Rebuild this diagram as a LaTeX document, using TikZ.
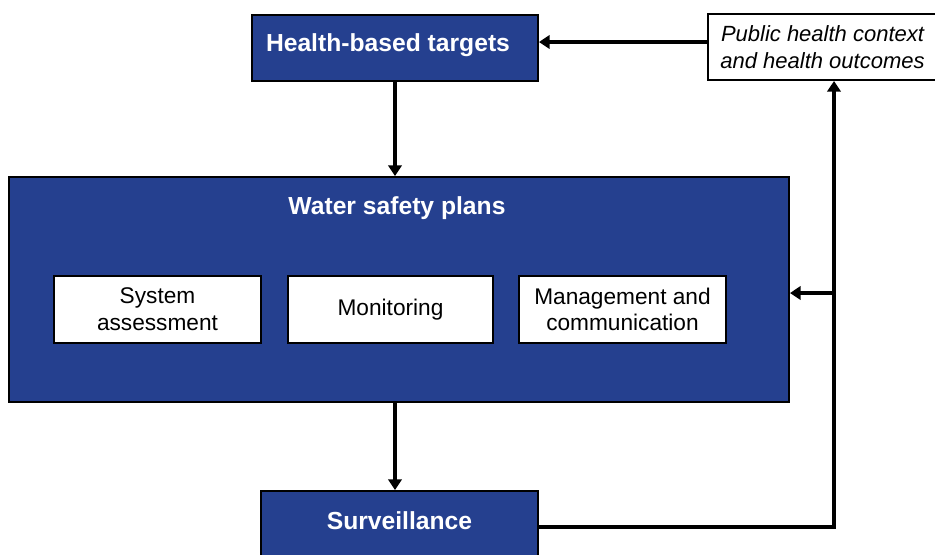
\documentclass[tikz,border=0pt]{standalone}
\usepackage{fontspec}
\setmainfont{Liberation Sans}
\usetikzlibrary{arrows.meta}
\definecolor{whoblue}{RGB}{37,64,143}
\begin{document}
\begin{tikzpicture}[x=0.75pt,y=-0.75pt,
  bluebox/.style={draw=black,line width=1.5pt,fill=whoblue,inner sep=0pt,text=white,font=\fontsize{18.5}{22}\selectfont\bfseries},
  whitebox/.style={draw=black,line width=1.5pt,fill=white,inner sep=0pt,align=center,font=\fontsize{17}{20}\selectfont},
  conn/.style={line width=3pt,draw=black},
  arr/.style={conn,-{Triangle[length=8pt,width=10pt]}}]
\useasboundingbox (0,0) rectangle (935,554);
\clip (0,0) rectangle (935,554);
% nodes
\node[bluebox,minimum width=286*0.75pt,minimum height=66*0.75pt] (hbt) at (395,48) {};
\node[text=white,font=\fontsize{18.5}{22}\selectfont\bfseries,inner sep=0pt] (hbttext) at (388,45.5) {Health-based targets};
\node[whitebox,minimum width=229*0.75pt,minimum height=66*0.75pt,font=\fontsize{16.5}{20}\selectfont\itshape] (pub) at (822.5,47) {Public health context\\and health outcomes};
\node[bluebox,minimum width=780*0.75pt,minimum height=225*0.75pt] (wsp) at (399,289.5) {};
\node[text=white,font=\fontsize{18.5}{22}\selectfont\bfseries,inner sep=0pt] (wsptitle) at (397,208.5) {Water safety plans};
\node[whitebox,minimum width=207*0.75pt,minimum height=67*0.75pt] (sa) at (157.5,309.5) {System\\assessment};
\node[whitebox,minimum width=205*0.75pt,minimum height=67*0.75pt] (mon) at (390.5,309.5) {Monitoring};
\node[whitebox,minimum width=207*0.75pt,minimum height=67*0.75pt] (mgmt) at (622.5,309.5) {Management and\\communication};
\node[bluebox,minimum width=277*0.75pt,minimum height=70*0.75pt] (surv) at (399.5,526) {};
\node[text=white,font=\fontsize{18.5}{22}\selectfont\bfseries,inner sep=0pt] (survtext) at (399.5,521) {Surveillance};
% coordinates
\coordinate (corner) at (834,527);
\coordinate (branch) at (834,293);
\coordinate (pubw) at (708,42);
% connectors
\draw[arr] (hbt.south) -- (hbt.south |- wsp.north);
\draw[arr] (hbt.south |- wsp.south) -- (hbt.south |- surv.north);
\draw[arr] (surv.east |- corner) -- (corner) -- (corner |- pub.south);
\draw[arr] (branch) -- (branch -| wsp.east);
\draw[arr] (pubw) -- (pubw -| hbt.east);
\end{tikzpicture}
\end{document}
